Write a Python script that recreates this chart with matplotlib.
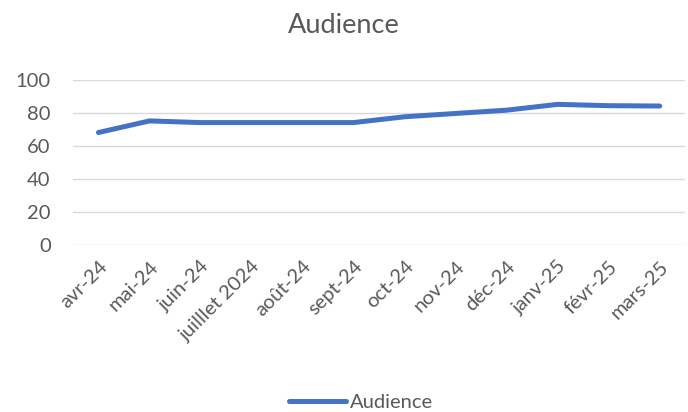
import matplotlib.pyplot as plt

# données
mois = ['avr-24', 'mai-24', 'juin-24', 'juilllet 2024', 'août-24', 'sept-24',
        'oct-24', 'nov-24', 'déc-24', 'janv-25', 'févr-25', 'mars-25']
audience = [68, 75, 74, 74, 74, 74, 77.5, 79.5, 81.5, 85, 84.2, 84]

gris = '#595959'
plt.rcParams['font.family'] = ['Lato', 'DejaVu Sans']

fig = plt.figure(figsize=(6.88, 4.12), dpi=100)
ax = fig.add_axes([0.106, 0.405, 0.89, 0.402])

x = range(len(mois))
ax.plot(x, audience, color='#4472C4', lw=3.6, solid_capstyle='round',
        solid_joinstyle='round', label='Audience')

ax.set_xlim(-0.5, len(mois) - 0.5)
ax.set_ylim(0, 100)
ax.set_yticks(range(0, 101, 20))
ax.set_xticks(list(x))
ax.set_xticklabels(mois, rotation=45, ha='right', rotation_mode='anchor')
ax.grid(axis='y', color='#D9D9D9', lw=1)
ax.set_axisbelow(True)
for s in ax.spines.values():
    s.set_visible(False)
ax.tick_params(length=0, colors=gris, labelsize=14.5)
ax.tick_params(axis='y', pad=16)
ax.tick_params(axis='x', pad=9)

fig.text(0.5, 0.938, 'Audience', ha='center', va='center', fontsize=19.5, color=gris)
fig.legend(loc='center', bbox_to_anchor=(0.525, 0.024), frameon=False,
           fontsize=14.5, labelcolor=gris, handlelength=2.8, handletextpad=0.2)

fig.savefig('out.png', dpi=100)
